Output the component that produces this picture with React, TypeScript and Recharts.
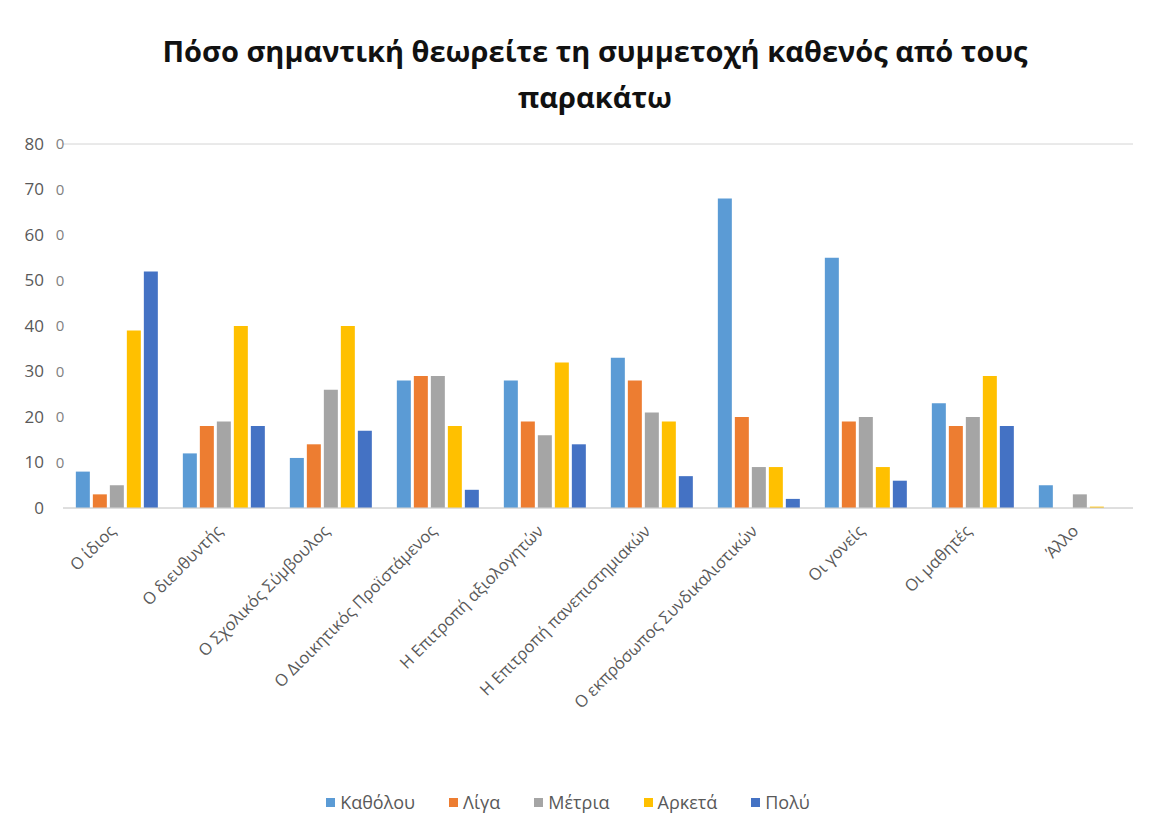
import React from 'react';
import { BarChart, Bar, XAxis, YAxis, CartesianGrid } from 'recharts';

const categories = [
  'Ο ίδιος',
  'Ο διευθυντής',
  'Ο Σχολικός Σύμβουλος',
  'Ο Διοικητικός Προϊστάμενος',
  'Η Επιτροπή αξιολογητών',
  'Η Επιτροπή πανεπιστημιακών',
  'Ο εκπρόσωπος Συνδικαλιστικών',
  'Οι γονείς',
  'Οι μαθητές',
  'Άλλο',
];

const kathólou = [8, 12, 11, 28, 28, 33, 68, 55, 23, 5];
const liga = [3, 18, 14, 29, 19, 28, 20, 19, 18, 0];
const metria = [5, 19, 26, 29, 16, 21, 9, 20, 20, 3];
const arketa = [39, 40, 40, 18, 32, 19, 9, 9, 29, 0.3];
const poly = [52, 18, 17, 4, 14, 7, 2, 6, 18, 0];

const yTicks = [0, 10, 20, 30, 40, 50, 60, 70, 80];

const SERIES = [
  { key: 'kath', name: 'Καθόλου', color: '#5B9BD5', values: kathólou },
  { key: 'liga', name: 'Λίγα', color: '#ED7D31', values: liga },
  { key: 'metria', name: 'Μέτρια', color: '#A5A5A5', values: metria },
  { key: 'arketa', name: 'Αρκετά', color: '#FFC000', values: arketa },
  { key: 'poly', name: 'Πολύ', color: '#4472C4', values: poly },
];

const data = categories.map((c, i) => {
  const row: Record<string, string | number> = { name: c };
  SERIES.forEach((s) => {
    row[s.key] = s.values[i];
  });
  return row;
});

const FONT = '"Open Sans", "Noto Sans", sans-serif';
const GREY = '#595959';

function LeftTick({ y, payload }: { y?: number; payload?: { value: number } }) {
  const v = payload?.value ?? 0;
  return (
    <g>
      <text x={44} y={y} dy="0.35em" textAnchor="end" fill={GREY} fontSize={17} fontFamily={FONT}>
        {v}
      </text>
      {v !== 0 && (
        <text x={60} y={y} dy="0.35em" textAnchor="middle" fill="#7f7f7f" fontSize={15} fontFamily={FONT}>
          0
        </text>
      )}
    </g>
  );
}

function RightTick({ y, payload }: { y?: number; payload?: { value: number } }) {
  const v = payload?.value ?? 0;
  if (v === 0) return null;
  return (
    <text x={1138} y={y} dy="0.35em" textAnchor="middle" fill="#7f7f7f" fontSize={15} fontFamily={FONT}>
      0
    </text>
  );
}

function CategoryTick({ x, y, payload }: { x?: number; y?: number; payload?: { value: string } }) {
  const tx = (x ?? 0) - 4;
  const ty = (y ?? 0) + 12;
  return (
    <text
      x={tx}
      y={ty}
      dy="0.35em"
      textAnchor="end"
      fill={GREY}
      fontSize={16.5}
      fontFamily={FONT}
      transform={`rotate(-45, ${tx}, ${ty})`}
    >
      {payload?.value}
    </text>
  );
}

export default function App() {
  return (
    <div style={{ position: 'absolute', left: 0, top: 0, width: 1157, height: 825, background: '#fff', fontFamily: FONT }}>
      <div
        style={{
          position: 'absolute',
          left: 35,
          top: 28,
          width: 1120,
          textAlign: 'center',
          fontSize: 29,
          fontWeight: 700,
          lineHeight: '46px',
          color: '#111',
        }}
      >
        Πόσο σημαντική θεωρείτε τη συμμετοχή καθενός από τους
        <br />
        παρακάτω
      </div>

      <BarChart
        width={1157}
        height={825}
        data={data}
        margin={{ top: 144, right: 0, bottom: 67, left: 0 }}
        barCategoryGap="12%"
        barGap={3}
      >
        <CartesianGrid horizontal vertical={false} stroke="#d4d4d4" />
        <XAxis
          dataKey="name"
          axisLine={{ stroke: '#d4d4d4' }}
          tickLine={false}
          interval={0}
          height={250}
          tick={<CategoryTick />}
        />
        <YAxis
          yAxisId="left"
          orientation="left"
          width={63}
          domain={[0, 80]}
          ticks={yTicks}
          axisLine={false}
          tickLine={false}
          tick={<LeftTick />}
        />
        <YAxis
          yAxisId="right"
          orientation="right"
          width={24}
          domain={[0, 80]}
          ticks={yTicks}
          axisLine={false}
          tickLine={false}
          tick={<RightTick />}
        />
        {SERIES.map((s) => (
          <Bar key={s.key} yAxisId="left" dataKey={s.key} name={s.name} fill={s.color} isAnimationActive={false} />
        ))}
      </BarChart>

      <div
        style={{
          position: 'absolute',
          top: 790,
          left: 0,
          width: 1136,
          display: 'flex',
          justifyContent: 'center',
          gap: 34,
          fontSize: 18,
          color: GREY,
        }}
      >
        {SERIES.map((s) => (
          <div key={s.key} style={{ display: 'flex', alignItems: 'center', gap: 5 }}>
            <span style={{ width: 9, height: 9, background: s.color, display: 'inline-block' }} />
            <span>{s.name}</span>
          </div>
        ))}
      </div>
    </div>
  );
}
